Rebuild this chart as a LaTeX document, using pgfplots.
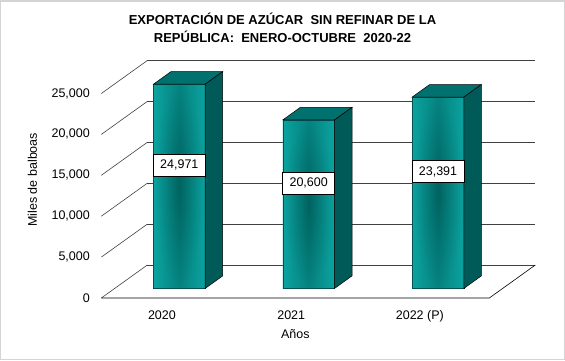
\documentclass[border=0pt]{standalone}
\usepackage{pgfplots}
\pgfplotsset{compat=1.18}
\usepackage{fontspec}
\setmainfont{Liberation Sans}
\definecolor{tealL}{HTML}{0BA3A0}
\definecolor{tealD}{HTML}{00625F}
\definecolor{tealTop}{HTML}{00716E}
\definecolor{tealSide}{HTML}{005B58}
\definecolor{frameG}{HTML}{D4D4D4}
\pgfplotsset{
  frontface/.style={draw=black, line width=0.5pt, left color=tealL, right color=tealL, middle color=tealD},
  frontspot/.style={draw=none, shading=radial, inner color=tealD, outer color=tealL, fill opacity=0.5},
  topface/.style={draw=black, line width=0.5pt, fill=tealTop},
  sideface/.style={draw=black, line width=0.5pt, fill=tealSide},
}
\begin{document}
\begin{tikzpicture}[x=1pt,y=1pt]
\begin{axis}[
  x={(129.33pt,0pt)}, y={(46pt,33pt)}, z={(0pt,0.00818pt)},
  xmin=-0.5, xmax=2.5, ymin=0, ymax=1, zmin=0, zmax=25000,
  clip=false,
  axis line style={draw=none},
  tick style={draw=none},
  xtick={0,1,2}, xticklabels={2020,2021,2022 (P)},
  ytick=\empty,
  ztick={0,5000,10000,15000,20000,25000},
  scaled z ticks=false,
  zmajorgrids,
  grid style={black!75, line width=0.6pt},
  /pgf/number format/1000 sep={,},
  /pgf/number format/assume math mode=true,
  tick label style={font=\fontsize{12.5}{14}\selectfont},
  xticklabel style={yshift=-9pt},
  zticklabel style={anchor=east, xshift=-8pt},
  xlabel={Años}, zlabel={Miles de balboas},
  every axis x label/.style={at={(axis cs:1,0,0)}, anchor=center, yshift=-36pt, font=\fontsize{12.5}{14}\selectfont},
  every axis z label/.style={at={(axis cs:-0.5,0,14460)}, xshift=-69pt, anchor=center, rotate=90, font=\fontsize{12.5}{14}\selectfont},
]
\coordinate (O) at (axis cs:0,0,0);
% floor front and right edges
\addplot3[black, line width=0.6pt] coordinates {(-0.5,0,0) (2.5,0,0) (2.5,1,0)};
% bar 2020
\addplot3[frontface] coordinates {(-0.2,0.29,0) (0.2,0.29,0) (0.2,0.29,24971) (-0.2,0.29,24971)} -- cycle;
\addplot3[frontspot] coordinates {(-0.2,0.29,0) (0.2,0.29,0) (0.2,0.29,24971) (-0.2,0.29,24971)} -- cycle;
\addplot3[topface] coordinates {(-0.2,0.29,24971) (0.2,0.29,24971) (0.2,0.67,24971) (-0.2,0.67,24971)} -- cycle;
\addplot3[sideface] coordinates {(0.2,0.29,0) (0.2,0.67,0) (0.2,0.67,24971) (0.2,0.29,24971)} -- cycle;
% bar 2021
\addplot3[frontface] coordinates {(0.8,0.29,0) (1.2,0.29,0) (1.2,0.29,20600) (0.8,0.29,20600)} -- cycle;
\addplot3[frontspot] coordinates {(0.8,0.29,0) (1.2,0.29,0) (1.2,0.29,20600) (0.8,0.29,20600)} -- cycle;
\addplot3[topface] coordinates {(0.8,0.29,20600) (1.2,0.29,20600) (1.2,0.67,20600) (0.8,0.67,20600)} -- cycle;
\addplot3[sideface] coordinates {(1.2,0.29,0) (1.2,0.67,0) (1.2,0.67,20600) (1.2,0.29,20600)} -- cycle;
% bar 2022 (P)
\addplot3[frontface] coordinates {(1.8,0.29,0) (2.2,0.29,0) (2.2,0.29,23391) (1.8,0.29,23391)} -- cycle;
\addplot3[frontspot] coordinates {(1.8,0.29,0) (2.2,0.29,0) (2.2,0.29,23391) (1.8,0.29,23391)} -- cycle;
\addplot3[topface] coordinates {(1.8,0.29,23391) (2.2,0.29,23391) (2.2,0.67,23391) (1.8,0.67,23391)} -- cycle;
\addplot3[sideface] coordinates {(2.2,0.29,0) (2.2,0.67,0) (2.2,0.67,23391) (2.2,0.29,23391)} -- cycle;
% data labels
\addplot3[draw=none, mark=none, nodes near coords, point meta=explicit,
  every node near coord/.append style={anchor=center, fill=white, draw=black, line width=0.5pt,
    minimum width=52pt, minimum height=22pt, inner sep=2pt, text=black,
    font=\fontsize{12.5}{14}\selectfont}]
  table[x=x, y expr=0.29, z expr=\thisrow{v}/2+2600, meta=v, row sep=\\] {
  x v \\ 0 24971 \\ 1 20600 \\ 2 23391 \\
  };
\end{axis}
\pgfresetboundingbox
\begin{scope}[shift={(O)}]
  \path[use as bounding box] (-166,-62) rectangle (399,298);
  \draw[frameG, line width=1.5pt] (-165.25,-61.25) rectangle (398.25,297.25);
  \node[align=center, inner sep=0pt, font=\fontsize{13}{18}\selectfont\bfseries] at (116.5,270)
    {EXPORTACIÓN DE AZÚCAR\ \ SIN REFINAR DE LA\\REPÚBLICA:\ \ ENERO-OCTUBRE\ \ 2020-22};
\end{scope}
\end{tikzpicture}
\end{document}
